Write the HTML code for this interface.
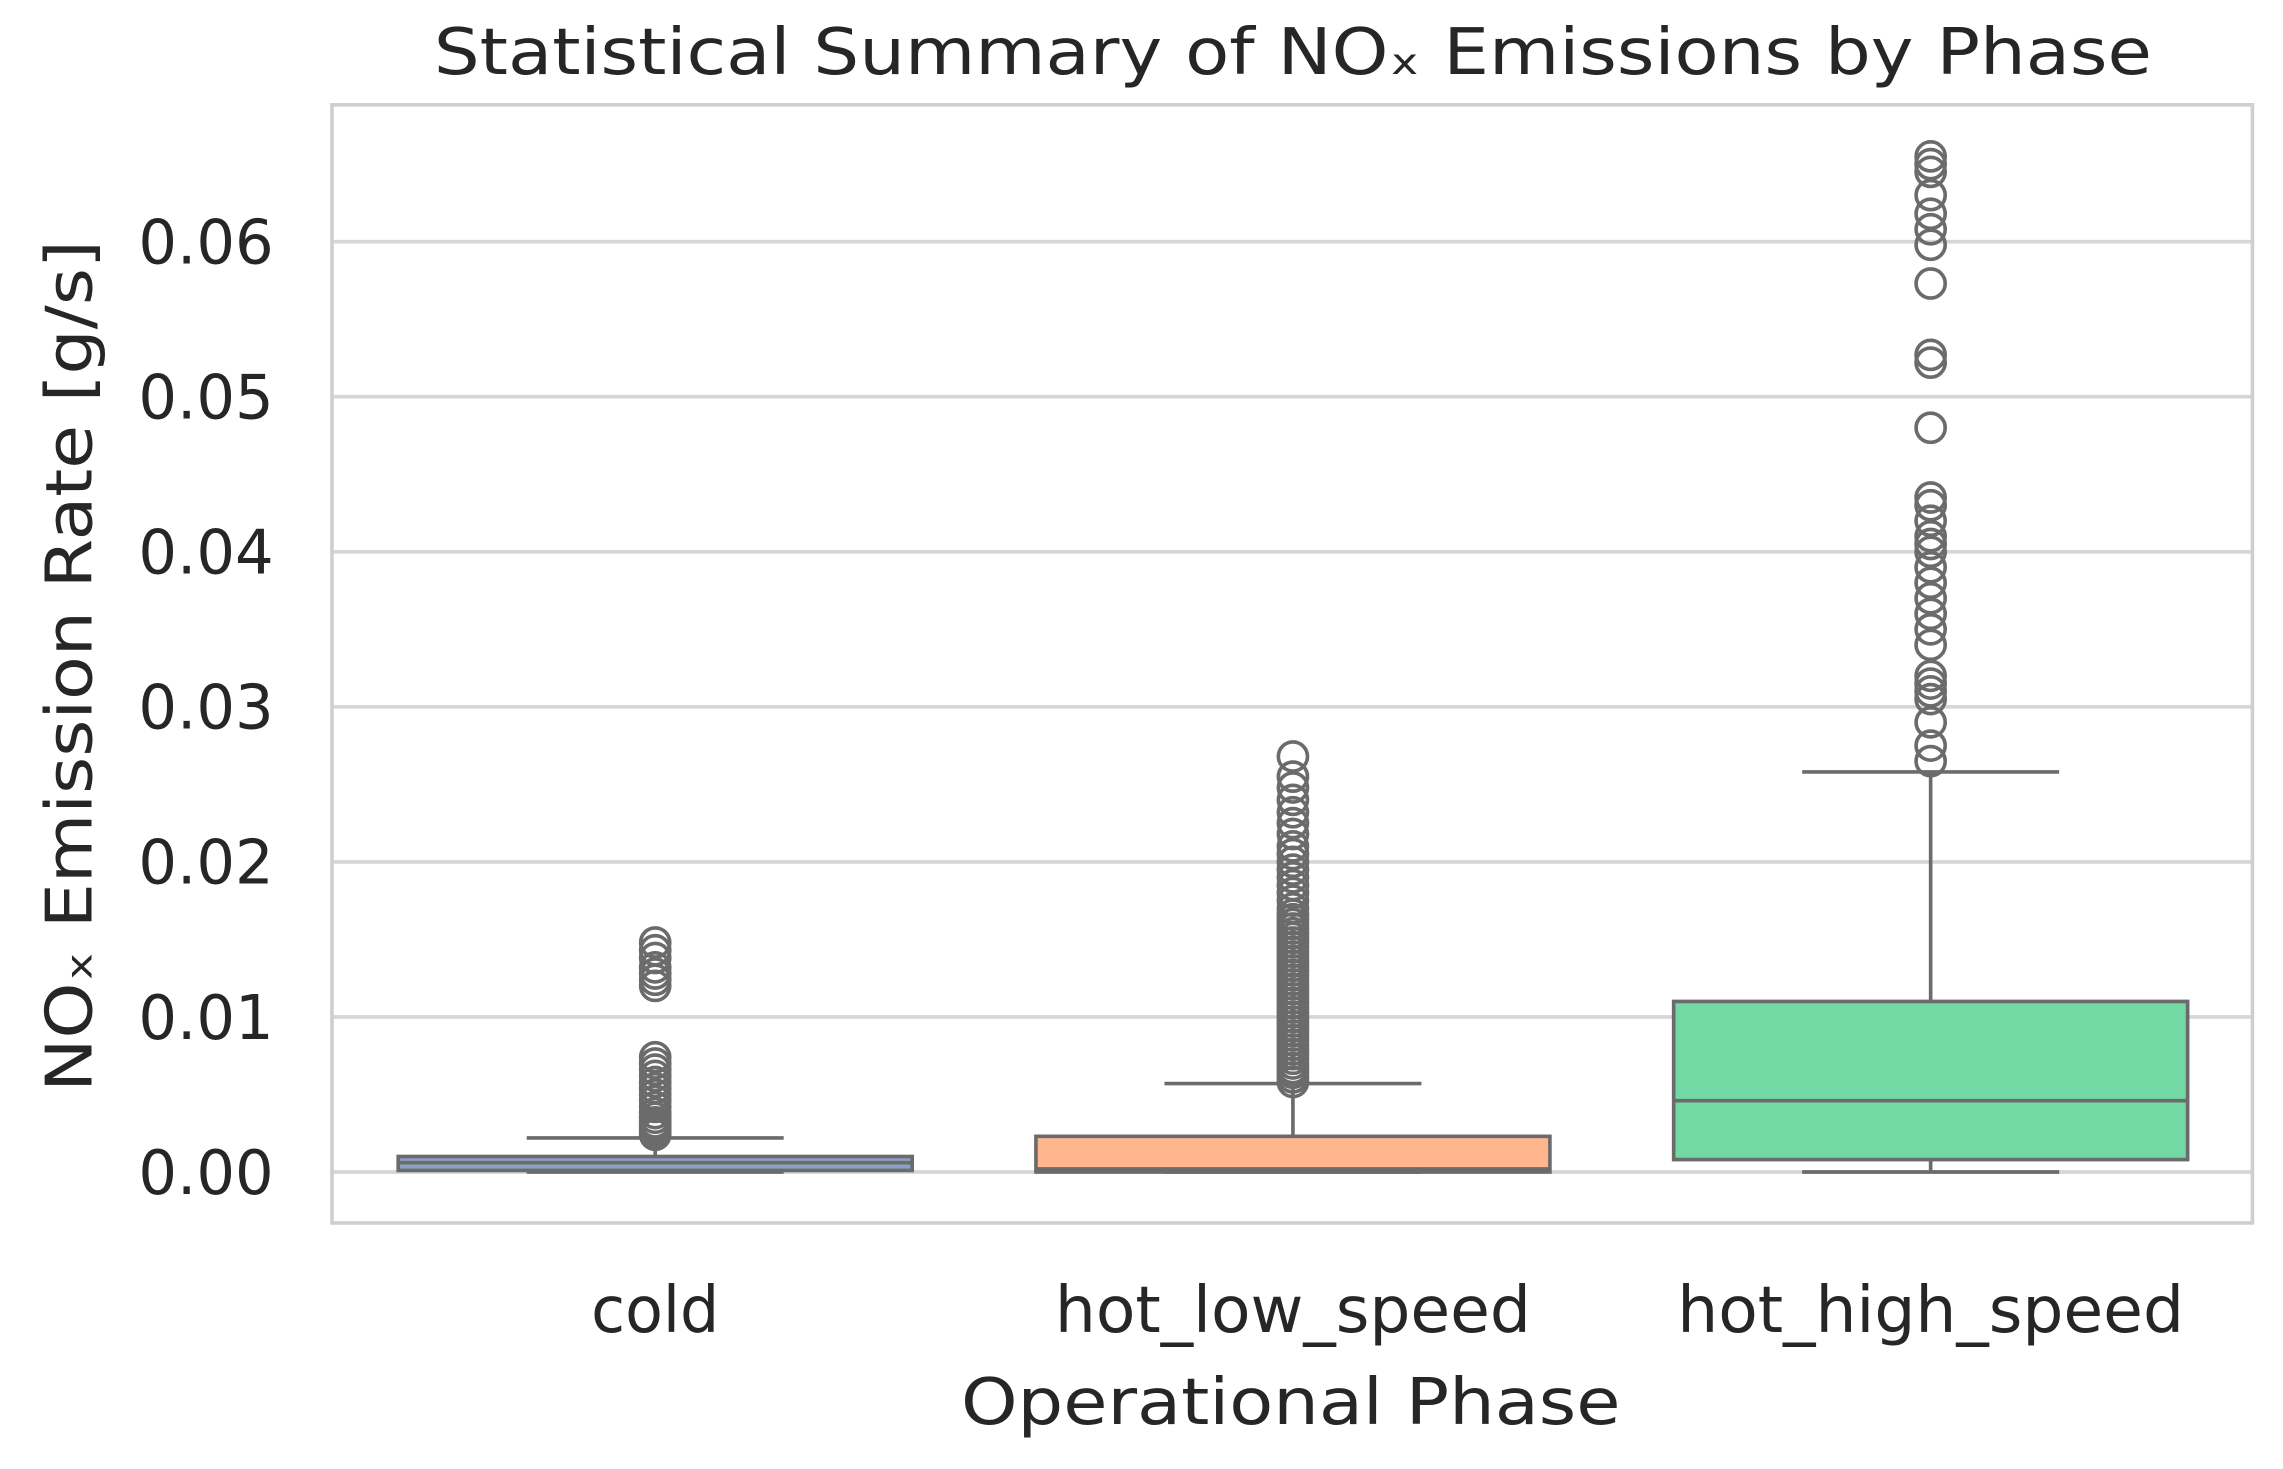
<!DOCTYPE html>
<html><head><meta charset="utf-8"><style>
html,body{margin:0;padding:0;background:#fff;}
svg{display:block;}
text{font-family:"DejaVu Sans","Liberation Sans",sans-serif;fill:#262626;}
</style></head><body>
<svg id="chart" width="2283" height="1469" viewBox="0 0 1568 1009" preserveAspectRatio="none" xmlns="http://www.w3.org/2000/svg">
<rect x="0" y="0" width="1568" height="1009" fill="#fff"/>
<text x="298" y="51" font-size="44" textLength="1180" lengthAdjust="spacingAndGlyphs">Statistical Summary of NOₓ Emissions by Phase</text>
<g id="grid"></g>
<rect x="228" y="72" width="1319" height="768" fill="none" stroke="#cfcfcf" stroke-width="2.5"/>
<g id="ticks"></g>
<g id="boxes"></g>
<g id="xlabels"></g>
<text transform="translate(63,750) rotate(-90)" font-size="44" textLength="585" lengthAdjust="spacingAndGlyphs">NOₓ Emission Rate [g/s]</text>
<text x="660" y="978" font-size="44" textLength="453" lengthAdjust="spacingAndGlyphs">Operational Phase</text>
</svg>
<script>
const categories = ["cold","hot_low_speed","hot_high_speed"];
const yTicks = [0,0.01,0.02,0.03,0.04,0.05,0.06];
const yTickLabels = ["0.00","0.01","0.02","0.03","0.04","0.05","0.06"];
const whiskerLow = [0.0000,0.0000,0.0000];
const q1 = [0.0001,0.0000,0.0008];
const median = [0.0006,0.0002,0.0046];
const q3 = [0.0010,0.0023,0.0110];
const whiskerHigh = [0.0022,0.0057,0.0258];
const outliersCold = [0.0024,0.0026,0.0028,0.0030,0.0032,0.0035,0.0038,0.0042,0.0046,0.0050,0.0054,0.0058,0.0062,0.0066,0.0070,0.0074,0.0120,0.0124,0.0128,0.0132,0.0138,0.0143,0.0148];
const outliersLow = [0.0058,0.0061,0.0064,0.0067,0.0070,0.0073,0.0076,0.0079,0.0082,0.0085,0.0088,0.0091,0.0094,0.0097,0.0100,0.0103,0.0106,0.0109,0.0112,0.0115,0.0118,0.0121,0.0124,0.0127,0.0130,0.0133,0.0136,0.0139,0.0142,0.0145,0.0148,0.0151,0.0154,0.0157,0.0160,0.0163,0.0166,0.0170,0.0175,0.0180,0.0185,0.0190,0.0195,0.0200,0.0205,0.0210,0.0218,0.0225,0.0232,0.0240,0.0248,0.0255,0.0268];
const outliersHigh = [0.0265,0.0275,0.0290,0.0305,0.0310,0.0315,0.0320,0.0340,0.0350,0.0360,0.0370,0.0380,0.0390,0.0400,0.0405,0.0410,0.0420,0.0430,0.0435,0.0480,0.0522,0.0527,0.0573,0.0598,0.0608,0.0618,0.0630,0.0645,0.0650,0.0655];
const colors = ["#8ba0c4","#ffb68c","#72d9a4"];
const labelWidths = [88,327,348];

const NS="http://www.w3.org/2000/svg";
const yScale = v => 805 - v*10650;
const xScale = i => 450 + i*438;
const boxW = 353;
function mk(tag, attrs, parent){const e=document.createElementNS(NS,tag);for(const k in attrs)e.setAttribute(k,attrs[k]);parent.appendChild(e);return e;}
const grid=document.getElementById('grid'), ticks=document.getElementById('ticks'), boxes=document.getElementById('boxes'), xl=document.getElementById('xlabels');
yTicks.forEach((t,i)=>{
  const l=mk('line',{x1:228,x2:1547,y1:yScale(t),y2:yScale(t),stroke:'#d6d6d6','stroke-width':2.5},grid);
  
  
  const tx=mk('text',{x:95,y:yScale(t)+15,'font-size':42,textLength:93,lengthAdjust:'spacingAndGlyphs'},ticks);
  tx.textContent=yTickLabels[i];
  
  
});
const outs=[outliersCold,outliersLow,outliersHigh];
categories.forEach((c,i)=>{
  const cx=xScale(i);
  const g=mk('g',{},boxes);
  
  
  const st={stroke:'#6b6b6b','stroke-width':2.5};
  mk('line',Object.assign({x1:cx,x2:cx,y1:yScale(q3[i]),y2:yScale(whiskerHigh[i])},st),g);
  mk('line',Object.assign({x1:cx,x2:cx,y1:yScale(q1[i]),y2:yScale(whiskerLow[i])},st),g);
  mk('line',Object.assign({x1:cx-boxW/4,x2:cx+boxW/4,y1:yScale(whiskerHigh[i]),y2:yScale(whiskerHigh[i])},st),g);
  mk('line',Object.assign({x1:cx-boxW/4,x2:cx+boxW/4,y1:yScale(whiskerLow[i]),y2:yScale(whiskerLow[i])},st),g);
  const h=Math.max(yScale(q1[i])-yScale(q3[i]),3);
  mk('rect',Object.assign({x:cx-boxW/2,y:yScale(q3[i]),width:boxW,height:h,fill:colors[i]},st),g);
  mk('line',Object.assign({x1:cx-boxW/2,x2:cx+boxW/2,y1:yScale(median[i]),y2:yScale(median[i])},st),g);
  outs[i].forEach(v=>{
    const o=mk('circle',{cx:cx,cy:yScale(v),r:10,fill:'none',stroke:'#6b6b6b','stroke-width':2.5},g);
    
    
  });
  const t=mk('text',{x:cx-labelWidths[i]/2,y:915,'font-size':44,textLength:labelWidths[i],lengthAdjust:'spacingAndGlyphs'},xl);
  t.textContent=c;
  
  
});
</script>
</body></html>
